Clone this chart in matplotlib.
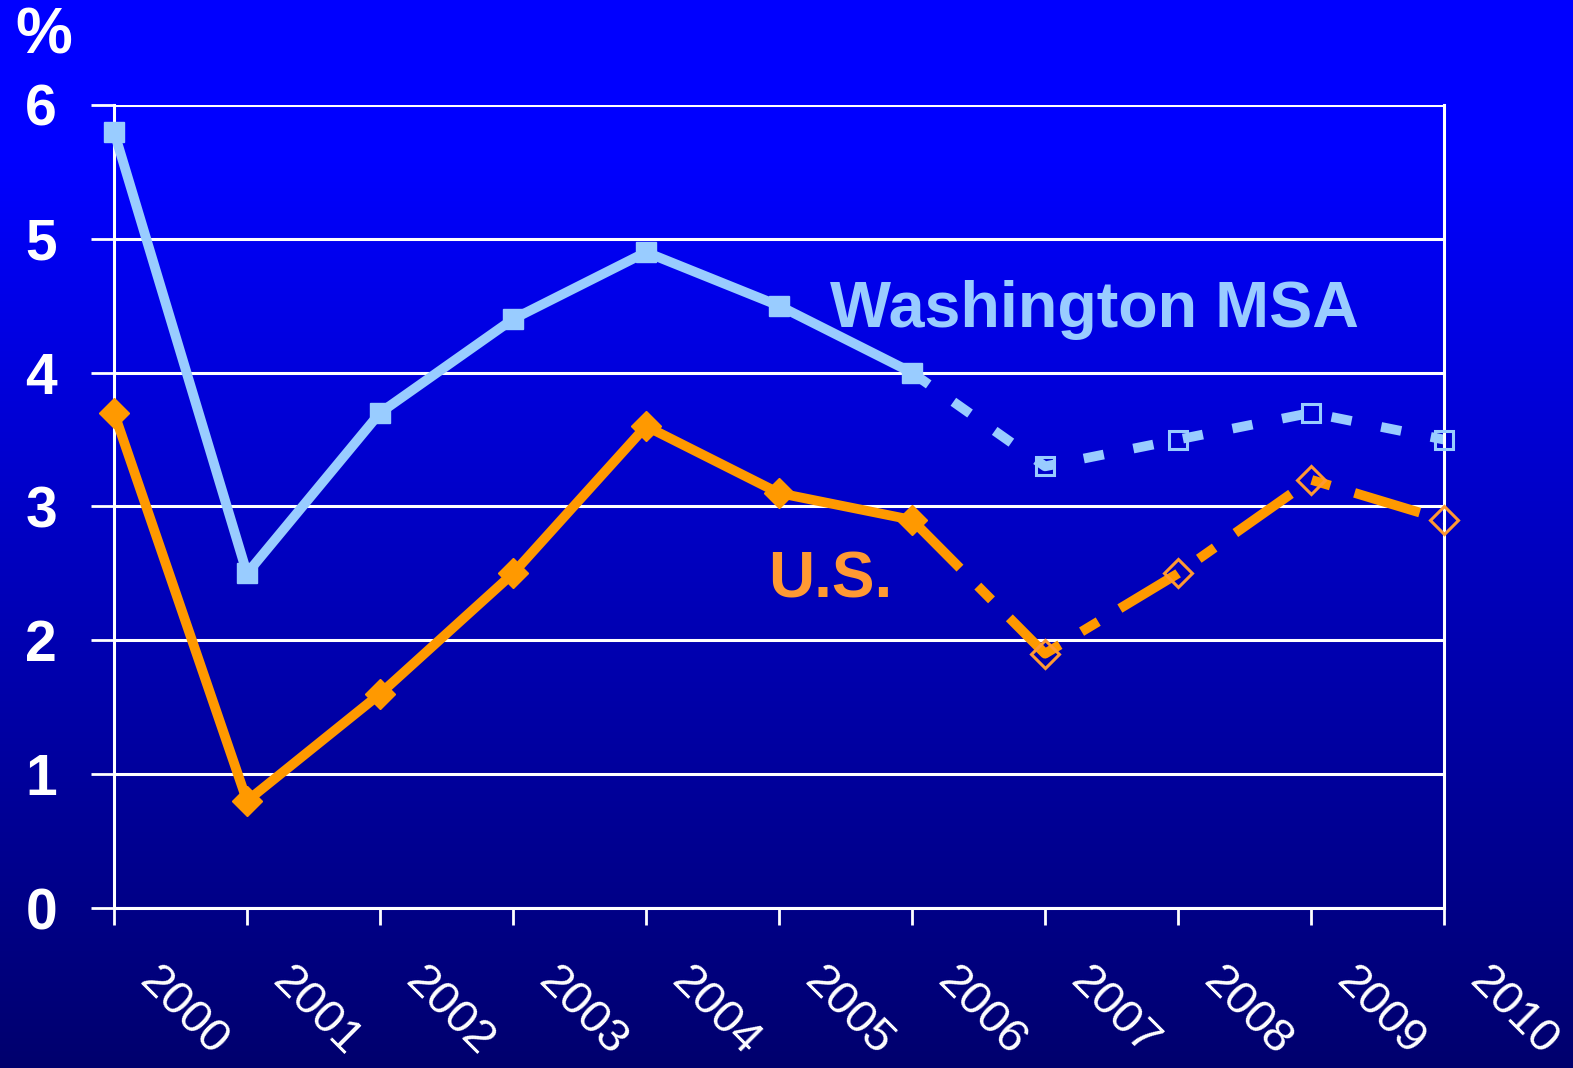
import numpy as np
import matplotlib.pyplot as plt
import matplotlib.transforms as mtransforms

years = [2000, 2001, 2002, 2003, 2004, 2005, 2006, 2007, 2008, 2009, 2010]
washington = [5.8, 2.5, 3.7, 4.4, 4.9, 4.5, 4.0, 3.3, 3.5, 3.7, 3.5]
us = [3.7, 0.8, 1.6, 2.5, 3.6, 3.1, 2.9, 1.9, 2.5, 3.2, 2.9]
n_actual = 7  # 2000-2006 actual, rest forecast
yticks = [0, 1, 2, 3, 4, 5, 6]

blue = '#99CCFF'
orange = '#FF9900'
orange_txt = '#FF9933'
font = 'Liberation Sans'

fig = plt.figure(figsize=(15.73, 10.68), dpi=100)

# background gradient
bg = fig.add_axes([0, 0, 1, 1], zorder=-1)
rows = np.arange(1068)
b = np.clip(280 - 0.16 * rows, 0, 255) / 255.
grad = np.zeros((1068, 1, 3))
grad[:, 0, 2] = b
bg.imshow(grad, aspect='auto', extent=(0, 1, 0, 1), origin='upper')
bg.set_axis_off()

ax = fig.add_axes([0.0725, 0.1498, 0.8455, 0.7519])
ax.set_facecolor('none')

lw = 7
# actual
ax.plot(years[:n_actual], washington[:n_actual], color=blue, lw=lw,
        marker='s', ms=15, mfc=blue, mec=blue, clip_on=False, zorder=3)
ax.plot(years[:n_actual], us[:n_actual], color=orange, lw=lw,
        marker='D', ms=15, mfc=orange, mec=orange, clip_on=False, zorder=3)

# forecast
ax.plot(years[n_actual - 1:], washington[n_actual - 1:], color=blue, lw=lw,
        dashes=(2.1, 3.1), clip_on=False, zorder=2)
ax.plot(years[n_actual:], washington[n_actual:], ls='none', marker='s', ms=13,
        mfc='none', mec=blue, mew=2.2, clip_on=False, zorder=4)
ax.plot(years[n_actual - 1:], us[n_actual - 1:], color=orange, lw=lw,
        dashes=(7.0, 2.6, 2.0, 2.6), clip_on=False, zorder=2)
ax.plot(years[n_actual:], us[n_actual:], ls='none', marker='D', ms=14,
        mfc='none', mec=orange_txt, mew=2.2, clip_on=False, zorder=4)

ax.set_xlim(2000, 2010)
ax.set_ylim(0, 6)
ax.set_yticks(yticks)
ax.set_yticklabels([str(v) for v in yticks], fontsize=41, fontweight='bold',
                   family=font, color='white')
ax.set_xticks(years)
ax.set_xticklabels([str(y) for y in years], fontsize=34, family=font,
                   color='white', rotation=-45, ha='left', va='top')

ax.tick_params(axis='y', length=16.5, width=2, color='white', pad=24.5)
ax.tick_params(axis='x', length=12, width=2, color='white', pad=25)
ax.grid(axis='y', color='white', lw=2.2)
ax.set_axisbelow(True)
for s in ['left', 'bottom', 'right']:
    ax.spines[s].set_color('white')
    ax.spines[s].set_linewidth(2.2)
ax.spines['top'].set_visible(False)

# shift the slanted year labels to the right of their ticks
offset = mtransforms.ScaledTranslation(0.17, 0, fig.dpi_scale_trans)
for lab in ax.get_xticklabels():
    lab.set_transform(lab.get_transform() + offset)

ax.text(2005.38, 4.34, 'Washington MSA', color=blue, fontsize=46.5,
        fontweight='bold', family=font, ha='left', va='baseline')
ax.text(2004.92, 2.32, 'U.S.', color=orange_txt, fontsize=46,
        fontweight='bold', family=font, ha='left', va='baseline')

fig.text(0.028, 0.966, '%', color='white', fontsize=46, fontweight='bold',
         family=font, ha='center', va='center')

fig.savefig('out.png', dpi=100)
